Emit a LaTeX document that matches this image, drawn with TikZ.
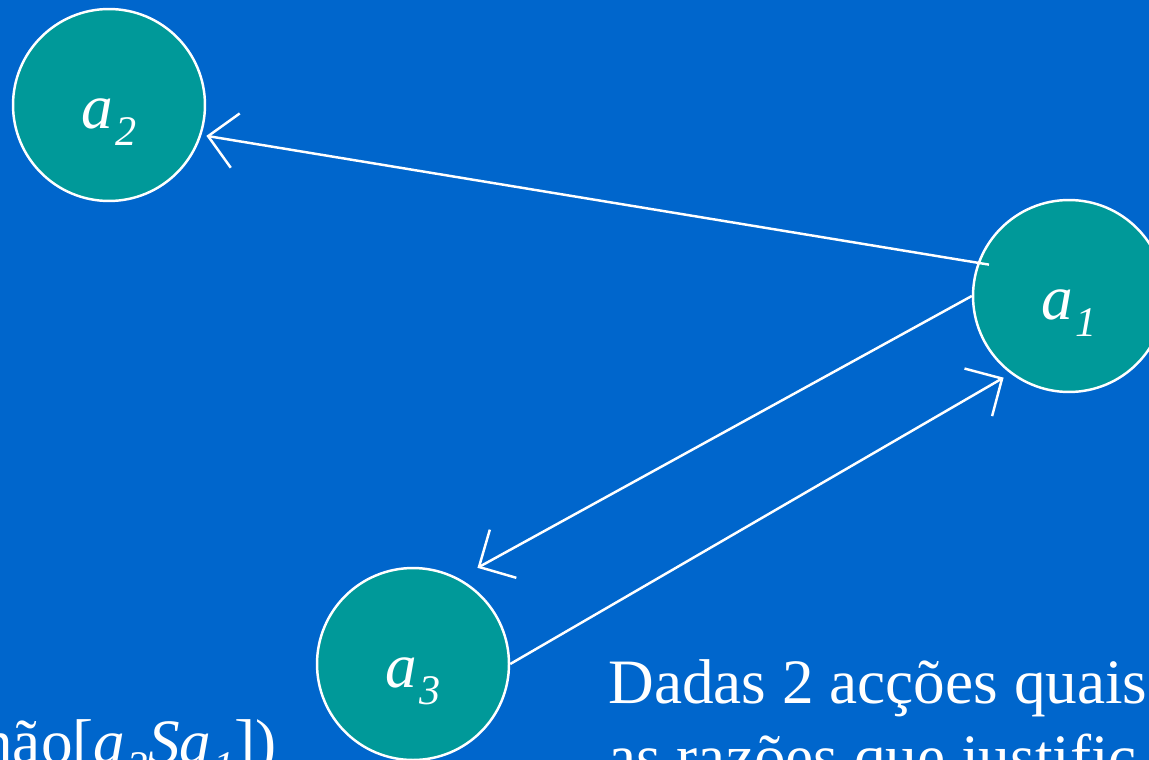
\documentclass[tikz,border=0pt]{standalone}
\usepackage{fontspec}
\setmainfont{Liberation Serif}[ItalicFont={Liberation Serif Italic}]
\usetikzlibrary{positioning, arrows.meta}
\definecolor{slideblue}{RGB}{0,102,204}
\definecolor{actteal}{RGB}{0,153,153}
% italic action name with a lowered italic index
\newcommand{\actn}[2]{\textit{#1}\kern0.03em\raisebox{-0.27em}{\fontsize{24}{24}\selectfont\itshape #2}}

\begin{document}
\begin{tikzpicture}[x=0.02cm, y=-0.02cm,
    act/.style={circle, draw=white, fill=actteal, line width=1.4pt,
                minimum size=3.84cm, inner sep=0pt, text=white,
                text height=27pt, text depth=0pt,
                font=\fontsize{36}{43}\selectfont},
    arr/.style={-{Straight Barb[length=0.55cm, width=1.1cm]}, draw=white, line width=1.4pt},
    label/.style={font=\fontsize{36}{43}\selectfont, text=white, inner sep=0pt}
  ]
  % Slide
  \useasboundingbox (0,0) rectangle (1149,760);
  \fill[slideblue] (0,0) rectangle (1149,760);
  \clip (0,0) rectangle (1149,760);

  % Actions
  \node[act] (a2) at (109,105) {\actn{a}{2}};
  \node[act] (a1) at (1069,296) {\actn{a}{1}};
  \node[act] (a3) at (413,664) {\actn{a}{3}};

  % Arrows
  \draw[arr, shorten <=-0.23cm, shorten >=0.1cm] (a1.160) -- (a2.-18.9);
  \draw[arr, shorten >=0.43cm] (a1.west) -- (a3.62);
  \draw[arr, shorten >=0.16cm] (a3.east) -- (a1.233.4);

  % Text
  \node[label, anchor=base east] (rel) at (277,763)
    {não[\actn{a}{3}\textit{S}\actn{a}{1}])};
  \node[label, anchor=base west] (txt1) at (608,703) {Dadas 2 acções quais};
  \node[label, anchor=base west] (txt2) at (608,778) {as razões que justific};
\end{tikzpicture}
\end{document}
